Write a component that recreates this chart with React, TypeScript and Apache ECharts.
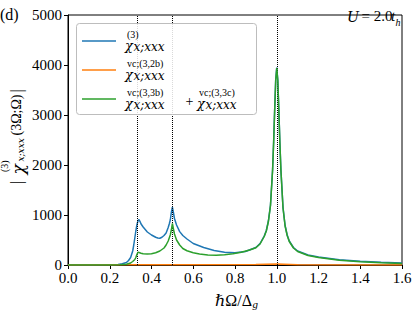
import React, { useEffect, useRef } from "react";
import * as echarts from "echarts";

// ---- data ----
const X_TICK_STEP = 0.2;
const Y_TICK_STEP = 1000;
const RESONANCES = [1 / 3, 0.5, 1.0];

const CHI3_X = [0, 0.1, 0.2, 0.22, 0.24, 0.26, 0.28, 0.29, 0.30, 0.31, 0.315, 0.32, 0.325, 0.33, 0.335, 0.34, 0.345, 0.35, 0.36, 0.38, 0.40, 0.42, 0.43, 0.44, 0.45, 0.46, 0.47, 0.48, 0.485, 0.49, 0.495, 0.50, 0.505, 0.51, 0.52, 0.535, 0.55, 0.57, 0.60, 0.65, 0.70, 0.75, 0.80, 0.85, 0.90, 0.92, 0.94, 0.95, 0.96, 0.97, 0.98, 0.985, 0.99, 0.995, 1.0, 1.005, 1.01, 1.015, 1.02, 1.03, 1.04, 1.05, 1.06, 1.08, 1.10, 1.15, 1.20, 1.30, 1.40, 1.50, 1.60];
const CHI3_Y = [0, 0, 3, 6, 12, 25, 50, 90, 150, 280, 400, 540, 680, 800, 880, 910, 870, 820, 760, 660, 600, 555, 540, 535, 555, 590, 640, 750, 820, 900, 1050, 1155, 1050, 930, 800, 667, 590, 520, 430, 350, 290, 255, 245, 270, 350, 430, 580, 690, 880, 1200, 1900, 2450, 3100, 3700, 3950, 3700, 3100, 2450, 1900, 1150, 790, 600, 480, 350, 280, 200, 160, 105, 75, 55, 40];

const VC2B_X = [0, 0.33, 0.5, 0.9, 1.0, 1.1, 1.6];
const VC2B_Y = [0, 3, 6, 8, 20, 5, 1];

const VC3_X = [0, 0.1, 0.2, 0.25, 0.28, 0.30, 0.31, 0.32, 0.325, 0.33, 0.335, 0.34, 0.35, 0.36, 0.38, 0.40, 0.42, 0.44, 0.46, 0.47, 0.48, 0.49, 0.495, 0.50, 0.505, 0.51, 0.52, 0.535, 0.55, 0.57, 0.60, 0.63, 0.67, 0.71, 0.75, 0.79, 0.83, 0.87, 0.90, 0.92, 0.94, 0.95, 0.96, 0.97, 0.98, 0.985, 0.99, 0.995, 1.0, 1.005, 1.01, 1.015, 1.02, 1.03, 1.04, 1.05, 1.06, 1.08, 1.10, 1.15, 1.20, 1.30, 1.40, 1.50, 1.60];
const VC3_Y = [0, 0, 1, 5, 15, 40, 70, 110, 150, 210, 255, 250, 235, 225, 220, 225, 245, 280, 340, 400, 480, 600, 700, 830, 720, 620, 500, 400, 330, 285, 245, 220, 200, 195, 205, 225, 255, 300, 345, 420, 570, 680, 870, 1190, 1890, 2440, 3090, 3690, 3940, 3690, 3090, 2440, 1890, 1140, 780, 590, 470, 340, 270, 190, 150, 95, 65, 45, 30];

const LEGEND_SUPS = ["(3)", "vc;(3,2b)", "vc;(3,3b)", "vc;(3,3c)"];

const BLUE = "#1f77b4";
const ORANGE = "#ff7f0e";
const GREEN = "#2ca02c";
const CHI = "\u03C7";

const pairs = (xs: number[], ys: number[]) => xs.map((x, i) => [x, ys[i]]);

const SERIF = "'Liberation Serif', 'DejaVu Serif', serif";
const MATH = "'DejaVu Serif', serif";

function txt(text: string, x: number, y: number, size: number, opts: any = {}) {
  return {
    type: "text",
    x,
    y,
    z: 110,
    style: {
      text,
      fontSize: size,
      fontFamily: opts.family || SERIF,
      fontStyle: opts.italic ? "italic" : "normal",
      fill: "#000",
      align: opts.align || "left",
      verticalAlign: "middle",
      lineHeight: size,
    },
  };
}

// chi with stacked superscript / subscript; boxes kept apart
function term(x: number, ly: number, sup: string) {
  return [
    txt(sup, x + 2, ly - 7, 10),
    txt(CHI, x, ly + 4.5, 13, { family: MATH, italic: true }),
    txt("x;xxx", x + 8.5, ly + 5.5, 12, { family: MATH, italic: true }),
  ];
}

function legendGraphics() {
  const rows = [41, 70, 99];
  const colors = [BLUE, ORANGE, GREEN];
  const els: any[] = [
    {
      type: "rect",
      z: 100,
      shape: { x: 76.5, y: 23.5, width: 180, height: 91, r: 3 },
      style: { fill: "rgba(255,255,255,0.85)", stroke: "#bdbdbd", lineWidth: 1 },
    },
  ];
  rows.forEach((ly, i) => {
    els.push({
      type: "line",
      z: 105,
      shape: { x1: 82, y1: ly, x2: 116, y2: ly },
      style: { stroke: colors[i], lineWidth: 1.5 },
    });
  });
  els.push(...term(125, rows[0], LEGEND_SUPS[0]));
  els.push(...term(125, rows[1], LEGEND_SUPS[1]));
  els.push(...term(125, rows[2], LEGEND_SUPS[2]));
  els.push(txt("+", 189.5, rows[2] + 2, 14, { align: "center" }));
  els.push(...term(197, rows[2], LEGEND_SUPS[3]));
  return els;
}

function yLabelGraphic() {
  return {
    type: "group",
    x: 0,
    y: 185,
    rotation: Math.PI / 2,
    children: [
      txt("|", 1, 16, 16),
      txt(CHI, 10.5, 18, 17, { family: MATH, italic: true }),
      txt("(3)", 13, 4.5, 10),
      txt("x;xxx", 23.5, 20.5, 9, { family: MATH, italic: true }),
      txt("(3Ω;Ω)", 49.5, 16, 14),
      txt("|", 92.5, 16, 16),
    ],
  };
}

export default function App() {
  const ref = useRef<HTMLDivElement>(null);
  useEffect(() => {
    if (!ref.current) return;
    const chart = echarts.init(ref.current, null, { renderer: "svg" });
    const axisCommon = {
      axisLine: { show: true, lineStyle: { color: "#000", width: 1 } },
      axisTick: { show: true, inside: false, length: 4, lineStyle: { color: "#000", width: 1 } },
      splitLine: { show: false },
    };
    chart.setOption({
      animation: false,
      backgroundColor: "#fff",
      grid: { left: 68, right: 13, top: 15, bottom: 46, show: true, borderColor: "#000", borderWidth: 1, backgroundColor: "transparent" },
      xAxis: {
        type: "value",
        min: 0,
        max: 1.6,
        interval: X_TICK_STEP,
        ...axisCommon,
        axisLabel: {
          color: "#000",
          fontFamily: SERIF,
          fontSize: 15,
          margin: 5,
          formatter: (v: number) => v.toFixed(1),
        },
      },
      yAxis: {
        type: "value",
        min: 0,
        max: 5000,
        interval: Y_TICK_STEP,
        ...axisCommon,
        axisLabel: {
          color: "#000",
          fontFamily: SERIF,
          fontSize: 15,
          margin: 6,
          formatter: (v: number) => String(Math.round(v)),
        },
      },
      series: [
        {
          name: "chi3",
          type: "line",
          data: pairs(CHI3_X, CHI3_Y),
          showSymbol: false,
          lineStyle: { color: BLUE, width: 1.5 },
          itemStyle: { color: BLUE },
          z: 3,
          markLine: {
            silent: true,
            symbol: ["none", "none"],
            label: { show: false },
            lineStyle: { type: "dotted", color: "#000", width: 1 },
            data: RESONANCES.map((x) => ({ xAxis: x })),
          },
        },
        {
          name: "vc2b",
          type: "line",
          data: pairs(VC2B_X, VC2B_Y),
          showSymbol: false,
          lineStyle: { color: ORANGE, width: 1.5 },
          itemStyle: { color: ORANGE },
          z: 4,
        },
        {
          name: "vc3",
          type: "line",
          data: pairs(VC3_X, VC3_Y),
          showSymbol: false,
          lineStyle: { color: GREEN, width: 1.5 },
          itemStyle: { color: GREEN },
          z: 5,
        },
      ],
      graphic: [
        ...legendGraphics(),
        yLabelGraphic(),
        txt("(d)", 0, 14, 16),
        txt("U", 347, 16, 16, { italic: true }),
        txt("= 2.0", 361.5, 16, 15),
        txt("t", 391, 16, 15, { italic: true }),
        txt("h", 395.5, 22, 10, { italic: true }),
        txt("ℏΩ/Δ", 252, 300, 16, { align: "right" }),
        txt("g", 252.5, 304, 11, { italic: true }),
      ],
    });
    return () => chart.dispose();
  }, []);
  return <div ref={ref} style={{ width: 415, height: 311, position: "absolute", left: 0, top: 0 }} />;
}
